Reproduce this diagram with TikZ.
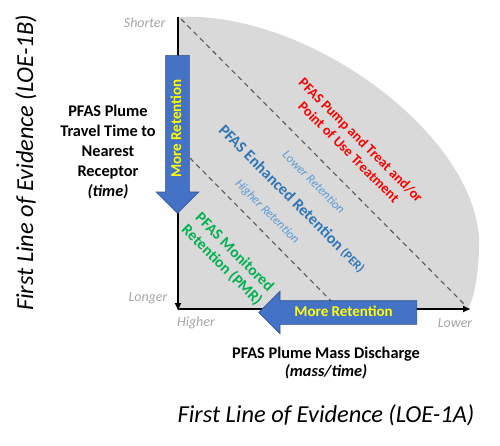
\documentclass[tikz,border=0pt]{standalone}
\usepackage{fontspec}
\setmainfont{Carlito}
\usetikzlibrary{arrows.meta,shapes.arrows}
\definecolor{zonegray}{HTML}{D9D9D9}
\definecolor{dashgray}{HTML}{595959}
\definecolor{tickgray}{HTML}{A6A6A6}
\definecolor{arrowblue}{HTML}{4472C4}
\definecolor{arrowedge}{HTML}{2F528F}
\definecolor{retyellow}{HTML}{FFFF00}
\definecolor{ptred}{HTML}{FF0000}
\definecolor{perblue}{HTML}{2E75B6}
\definecolor{retblue}{HTML}{5B9BD5}
\definecolor{pmrgreen}{HTML}{00B050}
\tikzset{
  axisline/.style={line width=1.8pt,-{Latex[length=8pt,width=7pt]}},
  divider/.style={dash pattern=on 5pt off 4pt,line width=1.1pt,dashgray},
  retarrow/.style={single arrow,fill=arrowblue,draw=arrowedge,line width=0.6pt,
    single arrow head extend=9.5pt,single arrow head indent=0pt,
    minimum height=158pt,minimum width=0pt,inner xsep=4pt,inner ysep=5pt,
    text height=10pt,text depth=3pt,text=retyellow,
    font=\bfseries\fontsize{15}{17}\selectfont},
  ticklabel/.style={text=tickgray,font=\itshape\fontsize{14}{16}\selectfont},
  titlelabel/.style={font=\bfseries\fontsize{16.3}{20}\selectfont,align=center},
  loelabel/.style={font=\itshape\fontsize{24.4}{28}\selectfont},
  zonelabel/.style={rotate=-45,align=center,font=\bfseries\fontsize{14.2}{17}\selectfont},
  retlabel/.style={rotate=-45,text=retblue,font=\itshape\fontsize{12.5}{14}\selectfont}
}
\begin{document}
\begin{tikzpicture}[x=1pt,y=1pt]
  \useasboundingbox (0,0) rectangle (500,-445);

  \coordinate (origin) at (178,-309);
  \coordinate (ytop) at (178,-17);
  \coordinate (xend) at (471,-309);
  \coordinate (yend) at (178,-311);

  % shaded region
  \fill[zonegray] (origin) -- (ytop) .. controls (310,-10) and (485,-140) .. (479,-250)
    .. controls (478,-280) and (473,-300) .. (468,-309) -- cycle;

  % zone borders
  \coordinate (d1a) at (181,-19);
  \coordinate (d1b) at (464,-304);
  \coordinate (d2a) at (190,-158);
  \coordinate (d2b) at (334,-304);
  \draw[divider] (d1a) -- (d1b);
  \draw[divider] (d2a) -- (d2b);

  % axes
  \draw[axisline] (ytop) -- (yend);
  \draw[axisline] (origin) -- (xend);

  % retention arrows
  \node[retarrow,rotate=90,shape border rotate=180,anchor=tail] (vret) at (177.5,-55) {More Retention};
  \node[retarrow,shape border rotate=180,anchor=tail] (hret) at (417,-312.5) {More Retention};

  % axis ends
  \node[ticklabel,anchor=east] (shorter) at (169,-23) {Shorter};
  \node[ticklabel,anchor=east] (longer) at (171,-298) {Longer};
  \node[ticklabel] (higher) at (196,-323) {Higher};
  \node[ticklabel] (lower) at (455,-323) {Lower};

  % axis titles
  \node[titlelabel] (ytitle) at (108,-152) {PFAS Plume\\Travel Time to\\Nearest\\Receptor\\\textit{(time)}};
  \node[titlelabel,font=\bfseries\fontsize{16.3}{18}\selectfont] (xtitle) at (326,-363) {PFAS Plume Mass Discharge\\\textit{(mass/time)}};
  \node[loelabel] (loea) at (326,-415) {First Line of Evidence (LOE-1A)};
  \node[loelabel,rotate=90] (loeb) at (26,-163) {First Line of Evidence (LOE-1B)};

  % zones
  \node[zonelabel,text=ptred] (pt) at (355,-146) {PFAS Pump and Treat and/or\\Point of Use Treatment};
  \node[zonelabel,text=perblue,font=\bfseries\fontsize{16}{18}\selectfont] (per) at (292,-199) {PFAS Enhanced Retention {\fontsize{12.5}{14}\selectfont(PER)}};
  \node[retlabel] (lowret) at (314,-182) {Lower Retention};
  \node[retlabel] (highret) at (267,-212) {Higher Retention};
  \node[zonelabel,text=pmrgreen,font=\bfseries\fontsize{15.5}{18}\selectfont] (pmr) at (228,-259) {PFAS Monitored\\Retention (PMR)};
\end{tikzpicture}
\end{document}
